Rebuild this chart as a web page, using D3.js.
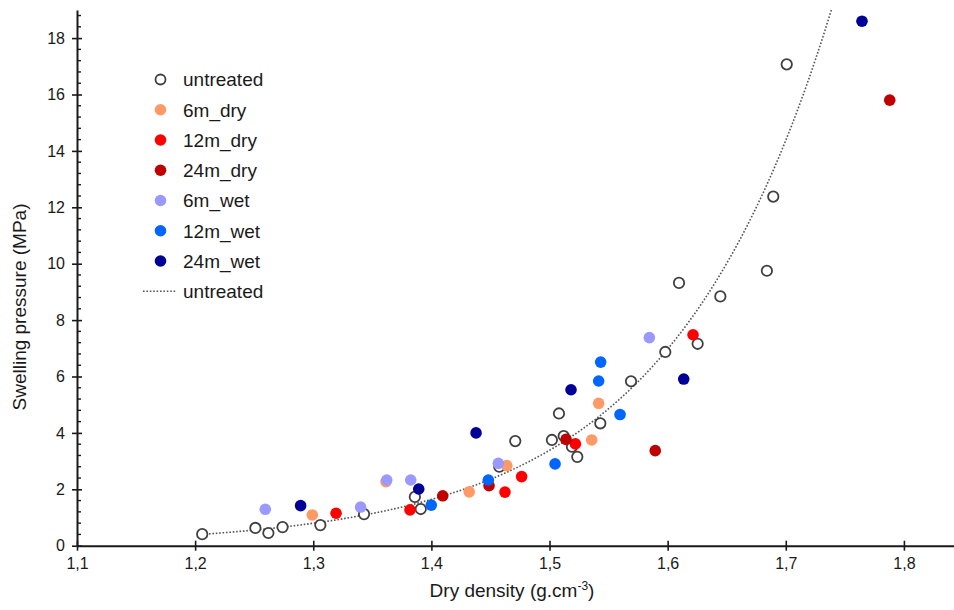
<!DOCTYPE html>
<html><head><meta charset="utf-8">
<script src="https://cdn.jsdelivr.net/npm/d3@7"></script>
<style>
body{margin:0;background:#fff}
svg{display:block}
text{font-family:"Liberation Sans",Arial,sans-serif;fill:#1a1a1a}
</style>
</head><body>
<svg id="c" width="954" height="610"></svg>
<script>
// ---- data ----
const seriesNames = ["untreated","6m_dry","12m_dry","24m_dry","6m_wet","12m_wet","24m_wet"];
const untreated = [[1.206,0.41],[1.251,0.63],[1.262,0.45],[1.274,0.66],[1.306,0.73],[1.343,1.12],[1.386,1.73],[1.391,1.30],[1.4575,2.80],[1.471,3.71],[1.502,3.75],[1.508,4.69],[1.512,3.89],[1.519,3.51],[1.5235,3.15],[1.543,4.34],[1.569,5.83],[1.598,6.87],[1.6096,9.32],[1.6254,7.16],[1.6446,8.84],[1.684,9.75],[1.6894,12.38],[1.7008,17.07]];
const dry6  = [[1.2992,1.09],[1.3616,2.27],[1.432,1.91],[1.4638,2.84],[1.5357,3.75],[1.5416,5.05]];
const dry12 = [[1.3193,1.15],[1.3819,1.27],[1.4623,1.90],[1.4764,2.45],[1.5219,3.61],[1.6215,7.48]];
const dry24 = [[1.4096,1.77],[1.4488,2.13],[1.514,3.77],[1.5895,3.37],[1.788,15.8]];
const wet6  = [[1.2594,1.29],[1.3401,1.37],[1.3622,2.33],[1.3825,2.33],[1.4567,2.92],[1.5845,7.38]];
const wet12 = [[1.3999,1.44],[1.4482,2.33],[1.5047,2.90],[1.5597,4.65],[1.5416,5.84],[1.5433,6.51]];
const wet24 = [[1.2893,1.42],[1.3893,2.01],[1.4378,4.0],[1.5182,5.53],[1.6136,5.91],[1.7645,18.6]];
const xTicks = [1.1,1.2,1.3,1.4,1.5,1.6,1.7,1.8];
const yTicks = [0,2,4,6,8,10,12,14,16,18];
const trendName = "untreated";
const xTitle = "Dry density (g.cm";
const yTitle = "Swelling pressure (MPa)";

// ---- styles ----
const seriesData = [untreated, dry6, dry12, dry24, wet6, wet12, wet24];
const seriesColors = [null,"#FF9966","#FF0000","#C00000","#9999FF","#0066FF","#000099"];

const svg = d3.select("#c");
const x = d3.scaleLinear().domain([1.1, 1.8424]).range([77, 954]);
const y = d3.scaleLinear().domain([0, 19]).range([545.7, 9.9]);
const x0 = x(1.1), yBase = y(0);
const fmt = d => d3.format(".1f")(d).replace(".", ",");

// trendline: exponential least squares fit on untreated (ln y vs x)
const n = untreated.length;
const mx = d3.mean(untreated, d => d[0]);
const my = d3.mean(untreated, d => Math.log(d[1]));
const b = d3.sum(untreated, d => (d[0]-mx)*(Math.log(d[1])-my)) / d3.sum(untreated, d => (d[0]-mx)**2);
const lnA = my - b*mx;
const xStart = d3.min(untreated, d => d[0]);
const xEnd = (Math.log(19) - lnA) / b;
const trendPts = d3.range(0, 201).map(i => { const xv = xStart + (xEnd - xStart)*i/200; return [xv, Math.exp(lnA + b*xv)]; });

// axes
const gx = svg.append("g").attr("transform", `translate(0,${yBase})`)
  .call(d3.axisBottom(x).tickValues(xTicks).tickFormat(fmt).tickSizeInner(5).tickSizeOuter(0).tickPadding(8));
gx.select(".domain").attr("stroke","#1a1a1a").attr("stroke-width",2);
gx.selectAll(".tick line").attr("y1",-5).attr("y2",5).attr("stroke","#1a1a1a").attr("stroke-width",1.6);
gx.selectAll(".tick text").attr("font-size",16).attr("fill","#1a1a1a").attr("font-family","Liberation Sans, Arial, sans-serif").attr("dy","0.71em").attr("y",12);

const gy = svg.append("g").attr("transform", `translate(${x0},0)`)
  .call(d3.axisLeft(y).tickValues(yTicks).tickFormat(d3.format("d")).tickSizeInner(5).tickSizeOuter(0).tickPadding(8));
gy.select(".domain").attr("stroke","#1a1a1a").attr("stroke-width",2);
gy.selectAll(".tick line").attr("x1",5).attr("x2",-5).attr("stroke","#1a1a1a").attr("stroke-width",1.6);
gy.selectAll(".tick text").attr("font-size",16).attr("fill","#1a1a1a").attr("font-family","Liberation Sans, Arial, sans-serif").attr("x",-12);
// minor y ticks every 0.4
const minor = d3.range(0.4, 19, 0.4).filter(v => Math.abs(v/2 - Math.round(v/2)) > 0.01);
gy.selectAll(".minor").data(minor).enter().append("line").attr("class","minor")
  .attr("x1",0).attr("x2",4).attr("y1",d=>y(d)).attr("y2",d=>y(d)).attr("stroke","#1a1a1a").attr("stroke-width",1.4);

// titles
const xt = svg.append("text").attr("x",512).attr("y",597).attr("text-anchor","middle").attr("font-size",19);
xt.append("tspan").text(xTitle);
xt.append("tspan").text("-3").attr("font-size",12).attr("dy",-7);
xt.append("tspan").text(")").attr("dy",7);
svg.append("text").attr("transform","translate(26,307) rotate(-90)").attr("text-anchor","middle").attr("font-size",19).text(yTitle);

// trendline
svg.append("path").datum(trendPts)
  .attr("d", d3.line().x(d=>x(d[0])).y(d=>y(d[1])))
  .attr("fill","none").attr("stroke","#555").attr("stroke-width",1.6).attr("stroke-dasharray","1.6 1.8");

// points
seriesData.forEach((data, i) => {
  const g = svg.append("g");
  g.selectAll("circle").data(data).enter().append("circle")
    .attr("cx", d => x(d[0])).attr("cy", d => y(d[1]))
    .attr("r", i === 0 ? 5.2 : 5.8)
    .attr("fill", i === 0 ? "#fff" : seriesColors[i])
    .attr("stroke", i === 0 ? "#404040" : "none")
    .attr("stroke-width", i === 0 ? 1.8 : 0);
});

// legend
const leg = svg.append("g");
seriesNames.forEach((name, i) => {
  const ly = 79.5 + i*30.25;
  leg.append("circle").attr("cx",160.5).attr("cy",ly).attr("r", i===0 ? 5 : 5.8)
    .attr("fill", i===0 ? "#fff" : seriesColors[i])
    .attr("stroke", i===0 ? "#404040" : "none").attr("stroke-width", 1.8);
  leg.append("text").attr("x",183).attr("y",ly).attr("dy","0.36em").attr("font-size",19).text(name);
});
const tly = 79.5 + 7*30.25;
leg.append("line").attr("x1",143).attr("x2",176).attr("y1",tly).attr("y2",tly)
  .attr("stroke","#555").attr("stroke-width",1.6).attr("stroke-dasharray","1.6 1.8");
leg.append("text").attr("x",183).attr("y",tly).attr("dy","0.36em").attr("font-size",19).text(trendName);
</script>
</body></html>
